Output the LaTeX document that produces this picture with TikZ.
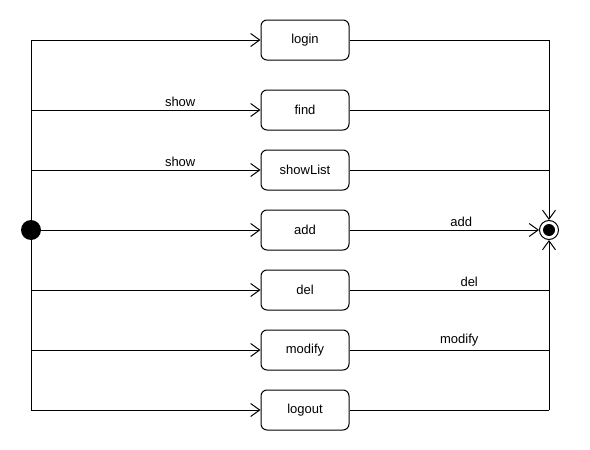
\documentclass[tikz,border=0pt]{standalone}
\usepackage{fontspec}
\setmainfont{Liberation Sans}
\usepackage{tikz}
\usetikzlibrary{positioning,calc}
\usetikzlibrary{arrows.meta,shapes}
\tikzstyle{state} = [rectangle,rounded corners=6pt,line width=1pt,draw=black,minimum width=88pt,minimum height=40pt,inner sep=0pt]
\tikzstyle{line} = [line width=1pt,-{Straight Barb[length=9pt,width=13pt,line width=1pt]}]
\tikzstyle{wire} = [line width=1pt]

\begin{document}
\begin{tikzpicture}[x=1pt,y=-1pt,font=\fontsize{13}{15}\selectfont]
        \useasboundingbox (0,0) rectangle (590,450);
        % states
        \node[state] (login) at (305,40) {login};
        \node[state,below=29pt of login] (find) {find};
        \node[state,below=19pt of find] (showlist) {showList};
        \node[state,below=19pt of showlist] (add) {add};
        \node[state,below=19pt of add] (del) {del};
        \node[state,below=19pt of del] (modify) {modify};
        \node[state,below=19pt of modify] (logout) {logout};
        % start and end
        \node[circle,fill=black,minimum size=20pt,inner sep=0pt] (start) at (31,230) {};
        \node[circle,draw=black,line width=1pt,minimum size=19pt,inner sep=0pt] (final) at (549,230) {};
        \fill (final.center) circle (6pt);
        \coordinate (ltop) at (start |- login);
        \coordinate (lbot) at (start |- logout);
        \coordinate (rtop) at (final |- login);
        \coordinate (rbot) at (final |- logout);
        % left side
        \draw[wire] (ltop) -- (lbot);
        \draw[line] (ltop) -- (login);
        \draw[line] (start |- find) -- node[above,pos=0.65] {show} (find);
        \draw[line] (start |- showlist) -- node[above,pos=0.65] {show} (showlist);
        \draw[line] (start) -- (add);
        \draw[line] (start |- del) -- (del);
        \draw[line] (start |- modify) -- (modify);
        \draw[line] (lbot) -- (logout);
        % right side
        \draw[wire] (login) -- (rtop);
        \draw[wire] (find) -- (final |- find);
        \draw[wire] (showlist) -- (final |- showlist);
        \draw[wire] (del) -- node[above,pos=0.6] {del} (final |- del);
        \draw[wire] (modify) -- node[above,pos=0.55] {modify} (final |- modify);
        \draw[wire] (logout) -- (rbot);
        \draw[line] (add) -- node[above,pos=0.59] {add} (final);
        \draw[line] (rtop) -- (final);
        \draw[line] (rbot) -- (final);
    \end{tikzpicture}
\end{document}
